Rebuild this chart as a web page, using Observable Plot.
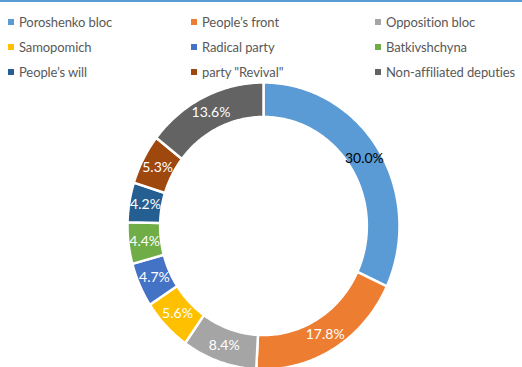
<!DOCTYPE html>
<html>
<head>
<meta charset="utf-8">
<script src="https://cdn.jsdelivr.net/npm/d3@7"></script>
<script src="https://cdn.jsdelivr.net/npm/@observablehq/plot@0.6"></script>
<style>
  html, body { margin: 0; padding: 0; background: #fff; }
  #wrap { width: 522px; height: 367px; position: relative; overflow: hidden; border-top: 2px solid #5b9bd5; box-sizing: border-box; }
  #legend { position: relative; height: 80px; font-family: Lato, "Open Sans", sans-serif; font-size: 13px; letter-spacing: -0.1px; color: #595959; }
  .item { position: absolute; display: flex; align-items: center; white-space: nowrap; }
  .sw { width: 6px; height: 6px; margin-right: 5px; }
  #chart svg { display: block; }
</style>
</head>
<body>
<div id="wrap">
  <div id="legend"></div>
  <div id="chart"></div>
</div>
<script>
const parties = ["Poroshenko bloc", "People’s front", "Opposition bloc", "Samopomich", "Radical party", "Batkivshchyna", "People’s will", "party \"Revival\"", "Non-affiliated deputies"];
const shares = [30.0, 17.8, 8.4, 5.6, 4.7, 4.4, 4.2, 5.3, 13.6];
const colors = ["#5b9bd5", "#ed7d31", "#a5a5a5", "#ffc000", "#4472c4", "#70ad47", "#255e91", "#9e480e", "#636363"];

// Legend (3 columns x 3 rows)
const legend = document.getElementById("legend");
const colX = [8, 191, 375];
const rowY = [12, 37, 62];
parties.forEach((p, i) => {
  const el = document.createElement("div");
  el.className = "item";
  el.style.left = colX[i % 3] + "px";
  el.style.top = rowY[Math.floor(i / 3)] + "px";
  el.innerHTML = `<span class="sw" style="background:${colors[i]}"></span><span></span>`;
  el.lastChild.textContent = p;
  legend.appendChild(el);
});

// Build donut geometry from data
const inner = 0.76;
const pie = d3.pie().sort(null).value(d => d.share).startAngle(0).endAngle(2 * Math.PI);
const rows = parties.map((party, i) => ({party, share: shares[i]}));
const arcs = pie(rows);
const pts = [];
arcs.forEach(a => {
  const n = Math.max(8, Math.ceil((a.endAngle - a.startAngle) * 60));
  const seg = [];
  for (let k = 0; k <= n; k++) {
    const t = a.startAngle + (a.endAngle - a.startAngle) * k / n;
    seg.push({party: a.data.party, x: Math.sin(t), y: Math.cos(t)});
  }
  for (let k = n; k >= 0; k--) {
    const t = a.startAngle + (a.endAngle - a.startAngle) * k / n;
    seg.push({party: a.data.party, x: inner * Math.sin(t), y: inner * Math.cos(t)});
  }
  seg.push({...seg[0]});
  pts.push(...seg);
});
const labels = arcs.map(a => {
  const m = (a.startAngle + a.endAngle) / 2;
  const r = (1 + inner) / 2;
  return {party: a.data.party, text: a.data.share.toFixed(1) + "%", x: r * Math.sin(m), y: r * Math.cos(m)};
});

const chart = Plot.plot({
  width: 522,
  height: 285,
  margin: 0,
  x: {domain: [-1, 1], range: [127, 399], axis: null},
  y: {domain: [1, -1], range: [0, 287], axis: null},
  color: {domain: parties, range: colors},
  style: {fontFamily: "Lato, 'Open Sans', sans-serif", background: "white"},
  marks: [
    Plot.line(pts, {x: "x", y: "y", z: "party", fill: "party", stroke: "white", strokeWidth: 2.5, curve: "linear"}),
    Plot.text(labels, {x: "x", y: "y", text: "text", fontSize: 14, fill: d => d.party === "Poroshenko bloc" ? "black" : "white"})
  ]
});
document.getElementById("chart").appendChild(chart);
</script>
</body>
</html>
